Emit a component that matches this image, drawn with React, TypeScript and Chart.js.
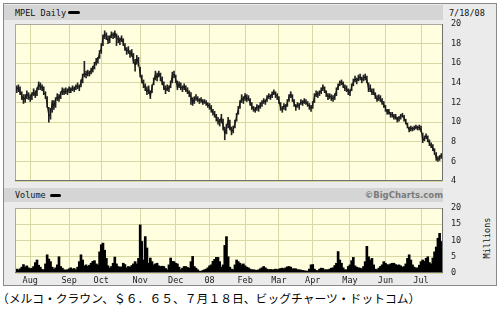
import React, { useEffect, useRef } from 'react';
import { Chart, registerables } from 'chart.js';
Chart.register(...registerables);

// Trading days Jul 19 2007 .. Jul 18 2008 (index 0..252)
const monthStarts = [9, 32, 51, 74, 95, 115, 136, 156, 176, 198, 219, 240];
const monthLabels = ['Aug', 'Sep', 'Oct', 'Nov', 'Dec', '08', 'Feb', 'Mar', 'Apr', 'May', 'Jun', 'Jul'];
const priceTicks = [4, 6, 8, 10, 12, 14, 16, 18, 20];
const volumeTicks = [0, 5, 10, 15, 20];

const closes = [
  13.5, 13.3, 13.6, 13.0, 12.7, 12.2, 12.5, 12.9, 12.6,
  12.4, 12.8, 13.1, 12.7, 13.3, 13.9, 13.5, 13.6, 13.0, 12.8, 11.8, 10.6, 10.9, 12.0, 11.6, 12.3, 12.6, 12.4, 12.9, 13.3, 13.0, 13.2, 13.1,
  13.4, 13.2, 13.5, 13.3, 13.6, 13.7, 13.5, 14.0, 14.7, 15.0, 14.8, 15.1, 14.9, 15.3, 15.4, 15.9, 16.2, 16.4, 17.1,
  17.5, 18.6, 19.0, 18.7, 18.3, 18.5, 19.0, 18.8, 19.1, 18.6, 18.4, 18.3, 18.6, 18.0, 17.6, 17.2, 17.4, 16.9, 17.1, 16.2, 15.8, 16.5, 16.0,
  14.9, 14.2, 13.8, 13.5, 13.1, 13.4, 12.6, 13.5, 14.2, 14.9, 14.5, 15.0, 14.6, 14.0, 13.6, 13.2, 13.5, 13.4, 13.9, 14.8, 14.9,
  14.4, 13.5, 13.9, 13.6, 13.4, 13.7, 13.3, 13.2, 12.9, 12.6, 11.9, 12.4, 12.5, 12.3, 12.2, 12.3, 12.0, 12.1, 11.9, 11.8,
  11.6, 11.3, 11.0, 10.8, 10.4, 10.1, 10.0, 10.5, 9.6, 8.8, 9.4, 10.2, 9.6, 9.0, 9.3, 9.8, 10.6, 11.3, 11.9, 12.5, 12.2,
  12.7, 12.3, 12.5, 11.9, 11.6, 11.3, 11.2, 11.6, 11.4, 11.8, 11.9, 12.2, 12.0, 12.5, 12.7, 12.5, 12.9, 13.1, 12.8, 12.6,
  12.2, 11.4, 11.3, 11.7, 11.5, 12.0, 12.6, 12.9, 12.4, 11.9, 11.5, 11.8, 11.6, 12.1, 11.9, 12.2, 12.0, 11.8, 11.6, 11.4,
  11.8, 12.6, 12.9, 12.8, 13.0, 13.2, 13.6, 13.3, 12.9, 12.6, 12.7, 12.5, 12.4, 12.6, 13.2, 13.7, 14.0, 14.1, 13.8, 13.5, 13.4, 13.1,
  13.0, 13.6, 14.1, 14.4, 14.2, 14.5, 14.6, 14.3, 14.5, 14.6, 14.3, 13.3, 13.5, 13.0, 13.1, 12.6, 12.3, 12.5, 12.4, 12.0, 11.8,
  11.4, 11.0, 11.1, 10.7, 10.8, 10.5, 10.6, 10.2, 10.4, 10.6, 10.7, 10.4, 10.0, 9.6, 9.2, 9.4, 9.3, 9.4, 9.5, 9.4, 9.5,
  9.3, 8.1, 8.4, 8.6, 8.2, 7.8, 7.6, 7.4, 6.9, 6.3, 6.2, 6.4, 6.65,
];

const highs = [
  13.9, 13.7, 13.8, 13.6, 13.1, 12.8, 12.8, 13.2, 13.0,
  12.8, 13.0, 13.4, 13.2, 13.5, 14.1, 14.0, 13.8, 13.6, 13.1, 12.6, 11.5, 11.4, 12.2, 12.2, 12.5, 12.9, 12.8, 13.1, 13.5, 13.4, 13.5, 13.4,
  13.6, 13.5, 13.7, 13.6, 13.8, 14.0, 13.8, 14.3, 14.9, 16.2, 15.2, 15.3, 15.2, 15.5, 15.7, 16.1, 16.5, 16.6, 17.3,
  18.0, 18.9, 19.3, 19.1, 18.8, 18.8, 19.2, 19.1, 19.3, 19.0, 18.8, 18.6, 18.8, 18.5, 18.0, 17.6, 17.7, 17.3, 17.4, 17.0, 16.4, 16.8, 16.6,
  15.6, 14.8, 14.3, 13.9, 13.6, 13.7, 13.2, 13.8, 14.5, 15.2, 15.0, 15.2, 15.0, 14.6, 14.1, 13.7, 13.8, 13.7, 14.2, 15.1, 15.2,
  14.8, 14.2, 14.1, 14.0, 13.7, 13.9, 13.7, 13.5, 13.2, 13.0, 12.5, 12.6, 12.8, 12.6, 12.4, 12.5, 12.3, 12.3, 12.2, 12.0,
  11.9, 11.7, 11.3, 11.1, 10.8, 10.5, 10.3, 10.8, 10.3, 9.5, 9.8, 10.5, 10.2, 9.5, 9.6, 10.2, 10.9, 11.6, 12.2, 12.8, 12.6,
  12.9, 12.8, 12.7, 12.4, 12.0, 11.6, 11.5, 11.8, 11.7, 12.0, 12.2, 12.4, 12.3, 12.7, 12.9, 12.8, 13.1, 13.3, 13.1, 12.9,
  12.6, 12.0, 11.6, 11.9, 11.8, 12.3, 12.8, 13.1, 12.8, 12.3, 11.8, 12.0, 11.9, 12.3, 12.2, 12.4, 12.3, 12.1, 11.9, 11.7,
  12.1, 12.9, 13.2, 13.1, 13.2, 13.5, 13.8, 13.6, 13.2, 12.9, 12.9, 12.8, 12.7, 12.9, 13.5, 13.9, 14.2, 14.3, 14.1, 13.8, 13.7, 13.4,
  13.3, 13.9, 14.4, 14.7, 14.5, 14.8, 14.9, 14.6, 14.8, 14.9, 14.7, 14.0, 13.8, 13.4, 13.4, 13.0, 12.7, 12.8, 12.7, 12.4, 12.1,
  11.7, 11.3, 11.3, 11.0, 11.0, 10.8, 10.8, 10.5, 10.6, 10.8, 10.9, 10.7, 10.3, 9.9, 9.5, 9.6, 9.5, 9.6, 9.7, 9.6, 9.7,
  9.6, 8.9, 8.6, 8.8, 8.6, 8.2, 7.9, 7.7, 7.3, 6.9, 6.5, 6.6, 6.8,
];

const lows = [
  13.1, 13.0, 13.1, 12.8, 12.3, 11.9, 12.0, 12.4, 12.3,
  12.1, 12.3, 12.7, 12.5, 12.7, 13.3, 13.3, 13.2, 12.8, 12.4, 11.5, 10.0, 10.3, 11.0, 11.3, 11.5, 12.2, 12.1, 12.4, 12.8, 12.8, 12.9, 12.8,
  13.0, 13.0, 13.2, 13.1, 13.3, 13.4, 13.2, 13.6, 14.0, 14.6, 14.5, 14.7, 14.7, 14.9, 15.1, 15.4, 15.8, 16.0, 16.5,
  17.0, 17.8, 18.5, 18.4, 18.0, 18.1, 18.6, 18.5, 18.6, 17.8, 18.1, 17.9, 18.2, 17.8, 17.3, 16.9, 17.0, 16.6, 16.7, 16.0, 15.2, 15.9, 15.7,
  14.6, 14.0, 13.5, 13.2, 12.8, 12.9, 12.4, 13.0, 13.8, 14.3, 14.2, 14.6, 14.2, 13.8, 13.3, 12.9, 13.2, 13.1, 13.5, 14.0, 14.5,
  14.0, 13.3, 13.5, 13.3, 13.1, 13.3, 13.1, 12.9, 12.6, 11.8, 11.7, 11.9, 12.2, 12.1, 11.9, 12.0, 11.8, 11.9, 11.7, 11.5,
  11.3, 11.0, 10.7, 10.5, 10.1, 9.8, 9.6, 9.9, 9.2, 8.2, 8.8, 9.4, 9.2, 8.7, 8.9, 9.4, 10.1, 10.8, 11.4, 12.0, 11.9,
  12.2, 12.1, 12.2, 11.7, 11.3, 11.1, 11.0, 11.2, 11.1, 11.4, 11.6, 11.9, 11.8, 12.1, 12.4, 12.3, 12.5, 12.8, 12.5, 12.3,
  11.9, 11.2, 11.0, 11.3, 11.2, 11.6, 12.1, 12.5, 12.1, 11.6, 11.2, 11.5, 11.3, 11.8, 11.7, 11.9, 11.8, 11.6, 11.3, 11.1,
  11.4, 12.0, 12.6, 12.5, 12.7, 12.9, 13.2, 13.0, 12.6, 12.3, 12.4, 12.2, 12.1, 12.3, 12.7, 13.3, 13.7, 13.8, 13.5, 13.2, 13.1, 12.8,
  12.7, 13.2, 13.7, 14.1, 13.9, 14.2, 14.3, 14.0, 14.2, 14.3, 14.0, 13.1, 13.1, 12.8, 12.8, 12.4, 12.1, 12.2, 12.1, 11.8, 11.5,
  11.1, 10.8, 10.8, 10.5, 10.5, 10.3, 10.3, 10.0, 10.1, 10.3, 10.5, 10.1, 9.8, 9.4, 9.0, 9.1, 9.1, 9.2, 9.3, 9.2, 9.2,
  9.0, 7.9, 8.1, 8.3, 8.0, 7.6, 7.4, 7.1, 6.7, 6.1, 6.0, 6.1, 6.3,
];

// Volume, millions of shares
const volumes = [
  1.0, 1.2, 1.0, 1.3, 1.8, 2.6, 1.9, 2.2, 1.6,
  1.3, 1.5, 2.0, 3.2, 4.0, 2.4, 1.8, 1.1, 1.0, 2.8, 5.6, 4.3, 3.5, 1.8, 1.2, 1.6, 2.5, 5.0, 2.0, 1.5, 1.0, 0.9, 1.0,
  1.3, 1.6, 1.2, 1.4, 1.0, 1.8, 3.5, 5.6, 4.0, 2.2, 2.5, 2.0, 2.4, 3.0, 3.6, 3.8, 2.8, 2.5, 6.5,
  8.7, 9.2, 7.0, 4.5, 2.2, 1.5, 2.0, 3.0, 4.9, 2.8, 2.0, 1.8, 1.9, 3.0, 2.6, 1.6, 2.0, 1.8, 2.3, 2.8, 3.5, 2.8, 4.5,
  14.8, 9.7, 4.0, 11.2, 7.7, 3.0, 4.6, 3.5, 2.5, 2.8, 3.0, 2.2, 2.0, 2.1, 2.0, 1.4, 1.0, 2.5, 4.6, 3.6, 3.5,
  3.0, 2.8, 1.8, 1.0, 1.5, 2.0, 2.0, 1.7, 1.5, 3.5, 5.1, 2.0, 1.5, 1.0, 0.6, 0.5, 0.8, 1.0, 1.2, 1.6,
  2.2, 2.5, 3.6, 4.2, 4.8, 4.8, 3.5, 1.8, 2.5, 8.5, 11.2, 5.0, 1.8, 1.2, 1.0, 2.5, 4.0, 3.5, 3.0, 2.5, 2.8,
  2.2, 1.8, 1.6, 1.2, 1.0, 1.0, 0.9, 0.8, 1.0, 1.3, 1.6, 2.0, 1.6, 1.2, 1.0, 1.1, 1.0, 1.0, 1.2, 1.0,
  1.2, 1.4, 1.5, 1.3, 1.6, 1.9, 2.0, 1.8, 1.3, 1.3, 1.3, 1.0, 1.0, 0.9, 0.8, 0.7, 0.6, 0.6, 1.2, 2.5,
  2.6, 1.2, 0.8, 0.7, 1.2, 1.5, 1.4, 1.0, 1.0, 1.0, 1.2, 1.5, 1.6, 2.3, 3.0, 6.6, 4.0, 3.0, 1.6, 1.0, 1.0, 2.0,
  2.5, 3.8, 4.8, 2.2, 1.8, 1.6, 1.5, 1.3, 2.0, 3.5, 8.2, 5.0, 4.0, 4.5, 2.5, 1.2, 1.0, 1.5, 2.0, 2.5, 3.5,
  3.0, 2.6, 2.5, 2.8, 3.0, 3.0, 2.6, 2.4, 2.5, 2.2, 1.8, 2.0, 2.8, 4.5, 5.6, 4.0, 2.5, 1.8, 1.5, 1.6, 2.4,
  3.5, 4.0, 3.6, 4.5, 5.0, 3.2, 2.8, 4.6, 6.5, 8.0, 10.7, 12.2, 9.7,
];

const PLOT_BG = '#ffffe0';
const GRID = 'rgb(216,216,164)';
const MONO = "'DejaVu Sans Mono', monospace";
const tickFont = { family: MONO, size: 8.5 };

const plotFrame = {
  id: 'plotFrame',
  beforeDraw(chart: any) {
    const { ctx, chartArea } = chart;
    const { left, top, right, bottom } = chartArea;
    ctx.save();
    ctx.fillStyle = PLOT_BG;
    ctx.fillRect(left, top, right - left, bottom - top);
    ctx.restore();
  },
  afterDraw(chart: any) {
    const { ctx, chartArea } = chart;
    const { left, top, right, bottom } = chartArea;
    ctx.save();
    ctx.lineWidth = 1;
    ctx.strokeStyle = '#a9a9a0';
    ctx.beginPath();
    ctx.moveTo(left + 0.5, bottom);
    ctx.lineTo(left + 0.5, top + 0.5);
    ctx.lineTo(right, top + 0.5);
    ctx.stroke();
    ctx.strokeStyle = '#6e6e6e';
    ctx.beginPath();
    ctx.moveTo(left, bottom - 0.5);
    ctx.lineTo(right - 0.5, bottom - 0.5);
    ctx.lineTo(right - 0.5, top);
    ctx.stroke();
    ctx.restore();
  },
};

const xMonthTicks = (s: any) => {
  s.ticks = monthStarts.map((v) => ({ value: v }));
};

export default function App() {
  const priceRef = useRef<HTMLCanvasElement>(null);
  const volRef = useRef<HTMLCanvasElement>(null);

  useEffect(() => {
    const price = new Chart(priceRef.current as HTMLCanvasElement, {
      type: 'bar',
      data: {
        datasets: [
          {
            type: 'line',
            data: closes.map((c, i) => ({ x: i, y: c })),
            borderColor: '#151515',
            borderWidth: 1,
            pointRadius: 0,
            tension: 0,
            order: 0,
          } as any,
          {
            type: 'bar',
            data: highs.map((h, i) => ({ x: i, y: [lows[i], h] })),
            backgroundColor: '#222222',
            barThickness: 1,
            order: 1,
          } as any,
        ],
      },
      options: {
        animation: false,
        responsive: false,
        maintainAspectRatio: false,
        layout: { padding: { top: 5, bottom: 5, left: 0, right: 0 } },
        plugins: { legend: { display: false }, tooltip: { enabled: false } },
        scales: {
          x: {
            type: 'linear',
            offset: false,
            min: 0,
            max: 253,
            afterBuildTicks: xMonthTicks,
            ticks: { display: false },
            grid: { color: GRID, drawTicks: false, lineWidth: 1, offset: false },
            border: { display: false },
            afterFit: (s: any) => {
              s.height = 0;
              s.paddingLeft = 0;
              s.paddingRight = 0;
            },
          },
          y: {
            position: 'right',
            min: 4,
            max: 20,
            afterBuildTicks: (s: any) => {
              s.ticks = priceTicks.map((v) => ({ value: v }));
            },
            ticks: { font: tickFont, color: '#222', padding: 8 },
            grid: { color: GRID, drawTicks: false, lineWidth: 1 },
            border: { display: false },
            afterFit: (s: any) => {
              s.width = 52;
              s.paddingTop = 0;
              s.paddingBottom = 0;
            },
          },
        },
      } as any,
      plugins: [plotFrame],
    });

    const vol = new Chart(volRef.current as HTMLCanvasElement, {
      type: 'bar',
      data: {
        datasets: [
          {
            data: volumes.map((v, i) => ({ x: i, y: v })),
            backgroundColor: '#000000',
            barThickness: 2,
          },
        ],
      },
      options: {
        animation: false,
        responsive: false,
        maintainAspectRatio: false,
        layout: { padding: { top: 5, bottom: 0, left: 0, right: 0 } },
        plugins: { legend: { display: false }, tooltip: { enabled: false } },
        scales: {
          x: {
            type: 'linear',
            offset: false,
            min: 0,
            max: 253,
            afterBuildTicks: xMonthTicks,
            ticks: {
              font: tickFont,
              color: '#222',
              padding: 3,
              autoSkip: false,
              maxRotation: 0,
              callback: (v: any) => {
                const k = monthStarts.indexOf(Number(v));
                return k >= 0 ? monthLabels[k] : '';
              },
            },
            grid: { color: GRID, drawTicks: false, lineWidth: 1, offset: false },
            border: { display: false },
            afterFit: (s: any) => {
              s.height = 14;
              s.paddingLeft = 0;
              s.paddingRight = 0;
            },
          },
          y: {
            position: 'right',
            min: 0,
            max: 20,
            afterBuildTicks: (s: any) => {
              s.ticks = volumeTicks.map((v) => ({ value: v }));
            },
            ticks: { font: tickFont, color: '#222', padding: 8 },
            grid: { color: GRID, drawTicks: false, lineWidth: 1 },
            border: { display: false },
            afterFit: (s: any) => {
              s.width = 52;
              s.paddingTop = 0;
              s.paddingBottom = 0;
            },
          },
        },
      } as any,
      plugins: [plotFrame],
    });

    return () => {
      price.destroy();
      vol.destroy();
    };
  }, []);

  const text: React.CSSProperties = {
    position: 'absolute',
    fontFamily: MONO,
    fontSize: 8.5,
    lineHeight: '10px',
    color: '#111',
    whiteSpace: 'nowrap',
  };

  return (
    <div style={{ position: 'absolute', left: 0, top: 0, width: 500, height: 311, background: '#fff', overflow: 'hidden' }}>
      <div
        style={{
          position: 'absolute',
          left: 3,
          top: 3,
          width: 492,
          height: 281,
          background: '#ebebeb',
          border: '1px solid #8a8a8a',
        }}
      />
      <div style={{ position: 'absolute', left: 4, top: 5, width: 439, height: 15, background: '#d5d5d5' }} />
      <div style={{ position: 'absolute', left: 4, top: 188, width: 439, height: 14, background: '#d5d5d5' }} />
      <div style={{ ...text, left: 15, top: 8 }}>MPEL Daily</div>
      <div style={{ position: 'absolute', left: 68, top: 11, width: 12, height: 3, background: '#000', borderRadius: 1.5 }} />
      <div style={{ ...text, left: 449, top: 8 }}>7/18/08</div>
      <div style={{ ...text, left: 15, top: 190 }}>Volume</div>
      <div style={{ position: 'absolute', left: 50, top: 194, width: 11, height: 3, background: '#000', borderRadius: 1.5 }} />
      <div
        style={{
          position: 'absolute',
          right: 57,
          top: 189,
          fontFamily: "'DejaVu Sans', sans-serif",
          fontWeight: 'bold',
          fontSize: 8.5,
          lineHeight: '12px',
          color: '#7a7a7a',
          whiteSpace: 'nowrap',
        }}
      >
        ©BigCharts.com
      </div>
      <div
        style={{
          ...text,
          left: 487,
          top: 238,
          transform: 'translate(-50%, -50%) rotate(-90deg)',
        }}
      >
        Millions
      </div>
      <canvas ref={priceRef} width={480} height={167} style={{ position: 'absolute', left: 15, top: 19, width: 480, height: 167 }} />
      <canvas ref={volRef} width={480} height={84} style={{ position: 'absolute', left: 15, top: 203, width: 480, height: 84 }} />
      <div
        style={{
          position: 'absolute',
          left: -3,
          top: 291,
          fontFamily: "'Noto Sans CJK JP', sans-serif",
          fontSize: 11.8,
          lineHeight: '14px',
          color: '#000',
          whiteSpace: 'nowrap',
        }}
      >
        （メルコ・クラウン、＄６．６５、７月１８日、ビッグチャーツ・ドットコム）
      </div>
    </div>
  );
}
